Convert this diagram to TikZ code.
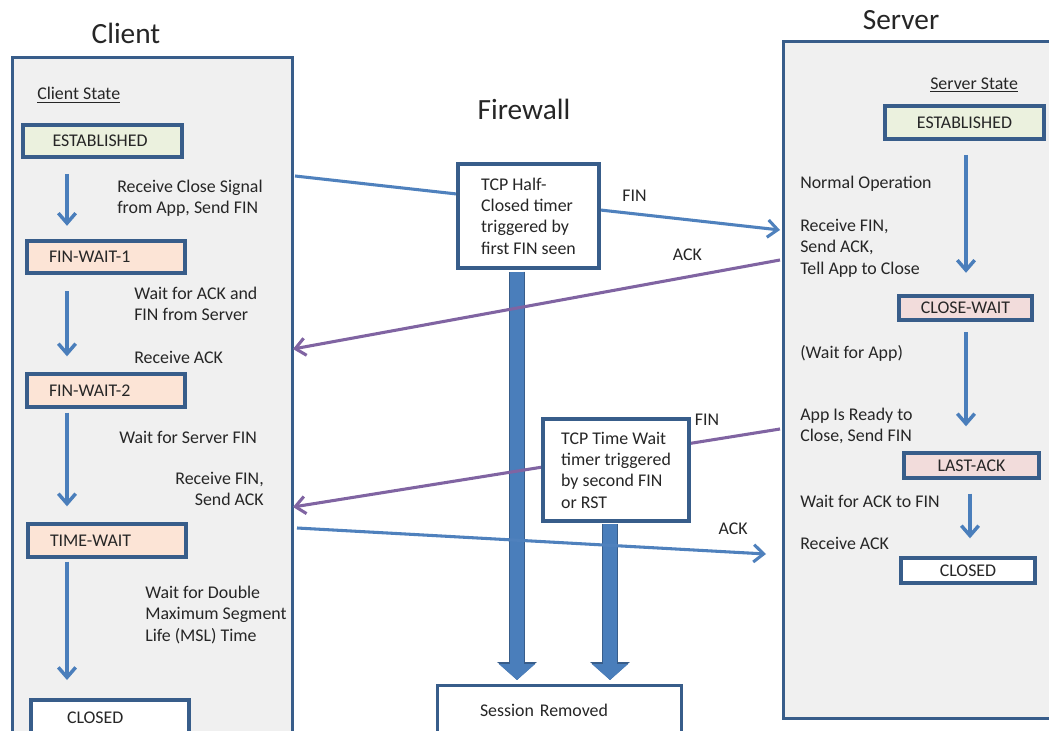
\documentclass[tikz,border=0pt]{standalone}
\usepackage{fontspec}
\setmainfont{Carlito}
\usepackage{tikz}
\usetikzlibrary{arrows.meta, calc}
\definecolor{edgeblue}{HTML}{385D8A}
\definecolor{msgblue}{HTML}{4F81BD}
\definecolor{msgpurple}{HTML}{8064A2}
\definecolor{panelgray}{HTML}{F0F0F0}
\definecolor{estgreen}{HTML}{EBF1DE}
\definecolor{waitpeach}{HTML}{FCE4D6}
\definecolor{lastpink}{HTML}{F2DCDB}
\definecolor{barblue}{HTML}{4A7EBB}
\pgfdeclarelayer{back}
\pgfsetlayers{back,main}
\tikzset{
  panel/.style   = {draw=edgeblue, line width=2.3pt, fill=panelgray, anchor=north west, inner sep=0pt},
  cstate/.style  = {draw=edgeblue, line width=2.8pt, minimum height=24.5pt, inner xsep=16.5pt, text width=85.5pt, align=left},
  sstate/.style  = {draw=edgeblue, line width=2.8pt, minimum height=18.5pt, inner sep=0pt, align=center},
  timer/.style   = {draw=edgeblue, line width=2.5pt, fill=white, align=left},
  note/.style    = {inner sep=0pt, align=left, anchor=west},
  title/.style   = {font=\fontsize{22pt}{26pt}\selectfont},
  flow/.style    = {-{Straight Barb[length=7.5pt, width=13pt]}, line width=2.6pt, draw=barblue},
  msgfwd/.style  = {-{Straight Barb[length=7.5pt, width=13pt]}, line width=2.3pt, draw=msgblue},
  msgback/.style = {-{Straight Barb[length=7.5pt, width=13pt]}, line width=2.3pt, draw=msgpurple},
  bigbar/.style  = {-{Triangle[length=12pt, width=26.5pt]}, line width=10.5pt, draw=barblue,
                    preaction={draw=edgeblue, line width=12.5pt, -{Triangle[length=13.5pt, width=29pt]}}}
}

\begin{document}
\begin{tikzpicture}[x=0.75pt, y=-0.75pt,
    every node/.style={font=\fontsize{13.4pt}{16pt}\selectfont, text=black!85}]

    \clip (0,0) rectangle (1049,731);
    \begin{pgfonlayer}{back}
      \fill[white] (0,0) rectangle (1049,731);
    \end{pgfonlayer}

    % ── Titles ───────────────────────────────────────────────────────────
    \node[title] (clientT) at (126,33)  {Client};
    \node[title] (serverT) at (901,20)  {Server};
    \node[title] (fwT)     at (524,109) {Firewall};

    % ── Panels ───────────────────────────────────────────────────────────
    \node[panel, minimum width=210pt, minimum height=540pt]    (client) at (11,56) {};
    \node[panel, minimum width=225pt, minimum height=507.75pt] (server) at (782,40) {};

    % ════════════════════════════════════════════════════════════════════
    %  CLIENT SIDE
    % ════════════════════════════════════════════════════════════════════
    \node[note] (cState) at (37,95) {\underline{Client State}};

    \node[cstate, fill=estgreen, inner xsep=22pt, text width=75pt] (cEst) at (102.5,141) {ESTABLISHED};
    \node[cstate, fill=waitpeach] (cFW1) at (106,257)   {FIN-WAIT-1};
    \node[cstate, fill=waitpeach] (cFW2) at (106,390.5) {FIN-WAIT-2};
    \node[cstate, fill=waitpeach] (cTW)  at (107,540.5) {TIME-WAIT};
    \node[cstate, fill=white, inner xsep=27pt, text width=64.5pt, minimum height=27pt,
          anchor=north] (cClosed) at (110,698) {CLOSED};

    \node[note] (cNote1) at (117,198) {Receive Close Signal\\from App, Send FIN};
    \node[note] (cNote2) at (134,304) {Wait for ACK and\\FIN from Server};
    \node[note] (cNote3) at (134,357) {Receive ACK};
    \node[note] (cNote4) at (119,437) {Wait for Server FIN};
    \node[note, anchor=east, align=right] (cNote5) at (264,489) {Receive FIN,\\Send ACK};
    \node[note] (cNote6) at (145,615) {Wait for Double\\Maximum Segment\\Life (MSL) Time};

    \coordinate (cAxis) at (67,0);
    \draw[flow, shorten <=11pt,   shorten >=9.75pt] (cEst.south -| cAxis) -- (cFW1.north -| cAxis);
    \draw[flow, shorten <=12pt,   shorten >=12pt]   (cFW1.south -| cAxis) -- (cFW2.north -| cAxis);
    \draw[flow, shorten <=3pt,    shorten >=12pt]   (cFW2.south -| cAxis) -- (cTW.north -| cAxis);
    \draw[flow, shorten <=2.25pt, shorten >=13.5pt] (cTW.south -| cAxis)  -- (cClosed.north -| cAxis);

    % ════════════════════════════════════════════════════════════════════
    %  SERVER SIDE
    % ════════════════════════════════════════════════════════════════════
    \node[note] (sState) at (930,85) {\underline{Server State}};

    \node[sstate, fill=estgreen, minimum width=119.25pt, minimum height=24.75pt] (sEst) at (964.5,122.5) {ESTABLISHED};
    \node[sstate, fill=lastpink, minimum width=99.75pt]  (sCW)     at (965.5,308)   {CLOSE-WAIT};
    \node[sstate, fill=lastpink, minimum width=101.25pt] (sLA)     at (971.5,465.5) {LAST-ACK};
    \node[sstate, fill=white,    minimum width=100.5pt]  (sClosed) at (968,570.5)   {CLOSED};

    \node[note] (sNote1) at (800,184) {Normal Operation};
    \node[note] (sNote2) at (800,248) {Receive FIN,\\Send ACK,\\Tell App to Close};
    \node[note] (sNote3) at (800,353) {(Wait for App)};
    \node[note] (sNote4) at (800,426) {App Is Ready to\\Close, Send FIN};
    \node[note] (sNote5) at (800,501) {Wait for ACK to FIN};
    \node[note] (sNote6) at (800,543) {Receive ACK};

    \coordinate (sAxis)  at (966,0);
    \coordinate (sAxisB) at (970,0);
    \draw[flow, shorten <=10.5pt, shorten >=15.75pt] (sEst.south -| sAxis) -- (sCW.north -| sAxis);
    \draw[flow, shorten <=7.5pt,  shorten >=18.75pt] (sCW.south -| sAxis)  -- (sLA.north -| sAxis);
    \draw[flow, shorten <=10.5pt, shorten >=13.5pt]  (sLA.south -| sAxisB) -- (sClosed.north -| sAxisB);

    % ════════════════════════════════════════════════════════════════════
    %  MESSAGES
    % ════════════════════════════════════════════════════════════════════
    \coordinate (finC)  at (295,176);
    \coordinate (finS)  at (780,230);
    \coordinate (ackS)  at (780,260);
    \coordinate (ackC)  at (293,349);
    \coordinate (fin2S) at (780,429);
    \coordinate (fin2C) at (293,507);
    \coordinate (ack2C) at (297,528);
    \coordinate (ack2S) at (766,554);

    \draw[msgfwd]  (finC)  -- node[pos=0.70, above=5pt] (finL)  {FIN} (finS);
    \draw[msgback] (ackS)  -- node[pos=0.19, above=8pt] (ackL)  {ACK} (ackC);
    \draw[msgback] (fin2S) -- node[pos=0.15, above=7pt] (fin2L) {FIN} (fin2C);
    \draw[msgfwd]  (ack2C) -- node[pos=0.93, above=9pt] (ack2L) {ACK} (ack2S);

    % ════════════════════════════════════════════════════════════════════
    %  FIREWALL
    % ════════════════════════════════════════════════════════════════════
    \node[timer, minimum width=105.75pt, minimum height=78pt] (half) at (528.5,216)
      {TCP Half-\\Closed timer\\triggered by\\first FIN seen};
    \node[timer, minimum width=109.5pt, minimum height=76.5pt] (tw) at (616,470)
      {TCP Time Wait\\timer triggered\\by second FIN\\or RST};
    \node[timer, inner xsep=32pt, text width=119.25pt, minimum height=37.5pt, anchor=north] (removed)
      at (559.5,684) {Session Removed};

    \coordinate (barA) at (517,0);
    \coordinate (barB) at (610,0);
    \begin{pgfonlayer}{back}
      \draw[bigbar, shorten <=1.5pt, shorten >=3pt] (half.south -| barA) -- (removed.north -| barA);
      \draw[bigbar, shorten <=1pt, shorten >=3pt] (tw.south -| barB) -- (removed.north -| barB);
    \end{pgfonlayer}

\end{tikzpicture}
\end{document}
